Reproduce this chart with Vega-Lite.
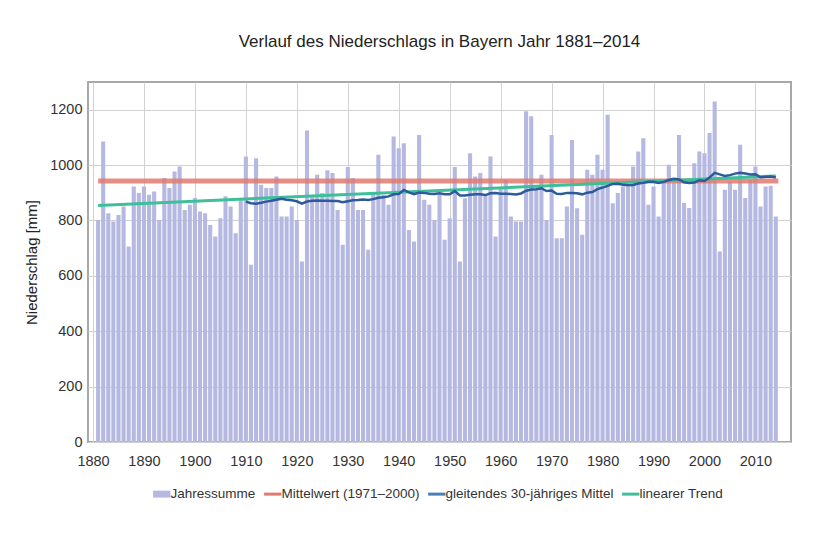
{
  "$schema": "https://vega.github.io/schema/vega-lite/v6.json",
  "width": 703,
  "height": 360,
  "autosize": {"type": "none"},
  "padding": {"left": 88, "top": 82, "right": 47, "bottom": 99},
  "background": "white",
  "title": {
    "text": "Verlauf des Niederschlags in Bayern Jahr 1881–2014",
    "fontSize": 17,
    "fontWeight": "normal",
    "font": "Liberation Sans",
    "color": "#222222",
    "offset": 31
  },
  "config": {
    "font": "Liberation Sans",
    "view": {"stroke": "#a8a8a8", "strokeWidth": 2},
    "axis": {
      "labelFont": "Liberation Sans",
      "labelFontSize": 14,
      "labelColor": "#333333",
      "titleFont": "Liberation Sans",
      "titleFontWeight": "normal",
      "titleColor": "#222222",
      "gridColor": "#d2d2d2",
      "gridWidth": 1,
      "domain": false,
      "ticks": false
    },
    "legend": {
      "labelFont": "Liberation Sans",
      "labelFontSize": 13.5,
      "labelColor": "#333333",
      "labelLimit": 400,
      "layout": {"bottom": {"anchor": "middle"}}
    }
  },
  "data": {
    "values": [
      {"year": 1881, "value": 802}, {"year": 1882, "value": 1085}, {"year": 1883, "value": 826}, {"year": 1884, "value": 796},
      {"year": 1885, "value": 820}, {"year": 1886, "value": 850}, {"year": 1887, "value": 706}, {"year": 1888, "value": 923},
      {"year": 1889, "value": 899}, {"year": 1890, "value": 923}, {"year": 1891, "value": 893}, {"year": 1892, "value": 905},
      {"year": 1893, "value": 802}, {"year": 1894, "value": 953}, {"year": 1895, "value": 917}, {"year": 1896, "value": 977},
      {"year": 1897, "value": 995}, {"year": 1898, "value": 838}, {"year": 1899, "value": 857}, {"year": 1900, "value": 881},
      {"year": 1901, "value": 832}, {"year": 1902, "value": 826}, {"year": 1903, "value": 784}, {"year": 1904, "value": 742},
      {"year": 1905, "value": 808}, {"year": 1906, "value": 887}, {"year": 1907, "value": 850}, {"year": 1908, "value": 754},
      {"year": 1909, "value": 875}, {"year": 1910, "value": 1031}, {"year": 1911, "value": 640}, {"year": 1912, "value": 1025},
      {"year": 1913, "value": 929}, {"year": 1914, "value": 917}, {"year": 1915, "value": 917}, {"year": 1916, "value": 959},
      {"year": 1917, "value": 814}, {"year": 1918, "value": 814}, {"year": 1919, "value": 850}, {"year": 1920, "value": 802},
      {"year": 1921, "value": 652}, {"year": 1922, "value": 1125}, {"year": 1923, "value": 887}, {"year": 1924, "value": 965},
      {"year": 1925, "value": 899}, {"year": 1926, "value": 981}, {"year": 1927, "value": 971}, {"year": 1928, "value": 838},
      {"year": 1929, "value": 712}, {"year": 1930, "value": 993}, {"year": 1931, "value": 953}, {"year": 1932, "value": 838},
      {"year": 1933, "value": 838}, {"year": 1934, "value": 694}, {"year": 1935, "value": 899}, {"year": 1936, "value": 1037},
      {"year": 1937, "value": 893}, {"year": 1938, "value": 857}, {"year": 1939, "value": 1103}, {"year": 1940, "value": 1061},
      {"year": 1941, "value": 1079}, {"year": 1942, "value": 766}, {"year": 1943, "value": 724}, {"year": 1944, "value": 1109},
      {"year": 1945, "value": 875}, {"year": 1946, "value": 857}, {"year": 1947, "value": 802}, {"year": 1948, "value": 893},
      {"year": 1949, "value": 730}, {"year": 1950, "value": 808}, {"year": 1951, "value": 993}, {"year": 1952, "value": 652},
      {"year": 1953, "value": 880}, {"year": 1954, "value": 1043}, {"year": 1955, "value": 959}, {"year": 1956, "value": 971},
      {"year": 1957, "value": 893}, {"year": 1958, "value": 1031}, {"year": 1959, "value": 742}, {"year": 1960, "value": 917},
      {"year": 1961, "value": 947}, {"year": 1962, "value": 814}, {"year": 1963, "value": 796}, {"year": 1964, "value": 796},
      {"year": 1965, "value": 1194}, {"year": 1966, "value": 1176}, {"year": 1967, "value": 911}, {"year": 1968, "value": 965},
      {"year": 1969, "value": 802}, {"year": 1970, "value": 1109}, {"year": 1971, "value": 736}, {"year": 1972, "value": 736},
      {"year": 1973, "value": 850}, {"year": 1974, "value": 1091}, {"year": 1975, "value": 844}, {"year": 1976, "value": 748},
      {"year": 1977, "value": 983}, {"year": 1978, "value": 965}, {"year": 1979, "value": 1037}, {"year": 1980, "value": 983},
      {"year": 1981, "value": 1182}, {"year": 1982, "value": 862}, {"year": 1983, "value": 899}, {"year": 1984, "value": 923},
      {"year": 1985, "value": 923}, {"year": 1986, "value": 995}, {"year": 1987, "value": 1049}, {"year": 1988, "value": 1097},
      {"year": 1989, "value": 857}, {"year": 1990, "value": 923}, {"year": 1991, "value": 814}, {"year": 1992, "value": 935},
      {"year": 1993, "value": 1001}, {"year": 1994, "value": 935}, {"year": 1995, "value": 1109}, {"year": 1996, "value": 863},
      {"year": 1997, "value": 845}, {"year": 1998, "value": 1007}, {"year": 1999, "value": 1049}, {"year": 2000, "value": 1043},
      {"year": 2001, "value": 1116}, {"year": 2002, "value": 1230}, {"year": 2003, "value": 688}, {"year": 2004, "value": 911},
      {"year": 2005, "value": 941}, {"year": 2006, "value": 911}, {"year": 2007, "value": 1073}, {"year": 2008, "value": 881},
      {"year": 2009, "value": 947}, {"year": 2010, "value": 995}, {"year": 2011, "value": 850}, {"year": 2012, "value": 923},
      {"year": 2013, "value": 925}, {"year": 2014, "value": 814}
    ]
  },
  "layer": [
    {
      "mark": {"type": "bar", "width": 4.1, "fill": "#b5b8e1"},
      "encoding": {
        "x": {
          "field": "year", "type": "quantitative",
          "scale": {"domain": [1880, 2016], "nice": false, "zero": false},
          "axis": {"title": null, "values": [1880, 1890, 1900, 1910, 1920, 1930, 1940, 1950, 1960, 1970, 1980, 1990, 2000, 2010], "format": "d", "labelPadding": 12, "labelFlush": false, "labelFontSize": 14.5}
        },
        "y": {
          "field": "value", "type": "quantitative",
          "scale": {"domain": [0, 1300], "nice": false},
          "axis": {"title": "Niederschlag [mm]", "titleFontSize": 15, "titlePadding": 10, "values": [0, 200, 400, 600, 800, 1000, 1200], "format": "d", "labelPadding": 6, "labelFontSize": 14.5}
        },
        "color": {
          "datum": "Jahressumme",
          "type": "nominal",
          "scale": {
            "domain": ["Jahressumme", "Mittelwert (1971–2000)", "gleitendes 30-jähriges Mittel", "linearer Trend"],
            "range": ["#b5b8e1", "#e07a70", "#4a7fb5", "#3dbf9a"]
          },
          "legend": {
            "title": null,
            "orient": "bottom",
            "direction": "horizontal",
            "offset": 19,
            "columnPadding": 2,
            "labelOffset": 2,
            "symbolSize": 300,
            "symbolType": "stroke",
            "symbolStrokeWidth": 3,
            "labelLimit": 400,
            "encode": {
              "symbols": {
                "update": {
                  "shape": {"signal": "datum.value === 'Jahressumme' ? 'M-1,-0.4H1V0.4H-1Z' : 'stroke'"},
                  "fill": {"scale": "color", "field": "value"},
                  "stroke": {"scale": "color", "field": "value"},
                  "strokeWidth": {"signal": "datum.value === 'Jahressumme' ? 0 : 3"},
                  "opacity": {"value": 1}
                }
              }
            }
          }
        }
      }
    },
    {
      "transform": [
        {"filter": "datum.year >= 1971 && datum.year <= 2000"},
        {"aggregate": [{"op": "mean", "field": "value", "as": "value"}]}
      ],
      "mark": {"type": "rule", "strokeWidth": 5, "opacity": 0.85},
      "encoding": {
        "x": {"datum": 1881, "type": "quantitative"},
        "x2": {"datum": 2014.5},
        "y": {"field": "value", "type": "quantitative", "title": "Niederschlag [mm]"},
        "color": {"datum": "Mittelwert (1971–2000)", "type": "nominal"}
      }
    },
    {
      "transform": [
        {"regression": "value", "on": "year", "extent": [1881, 2014]}
      ],
      "mark": {"type": "line", "strokeWidth": 3},
      "encoding": {
        "x": {"field": "year", "type": "quantitative"},
        "y": {"field": "value", "type": "quantitative", "title": "Niederschlag [mm]"},
        "color": {"datum": "linearer Trend", "type": "nominal"}
      }
    },
    {
      "transform": [
        {"window": [{"op": "mean", "field": "value", "as": "ma"}], "frame": [-29, 0], "sort": [{"field": "year"}]},
        {"filter": "datum.year >= 1910"}
      ],
      "mark": {"type": "line", "strokeWidth": 2.5, "stroke": "#2c5a9a"},
      "encoding": {
        "x": {"field": "year", "type": "quantitative"},
        "y": {"field": "ma", "type": "quantitative", "title": "Niederschlag [mm]"},
        "color": {"datum": "gleitendes 30-jähriges Mittel", "type": "nominal"}
      }
    }
  ]
}
